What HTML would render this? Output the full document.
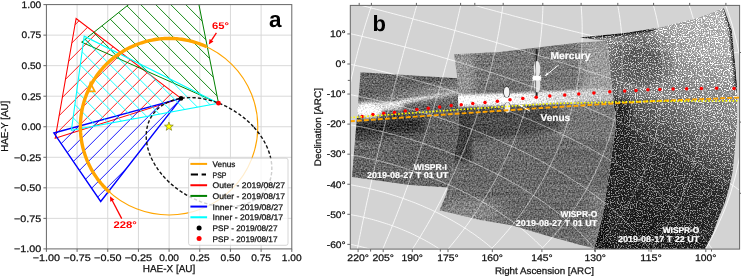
<!DOCTYPE html>
<html><head><meta charset="utf-8"><style>html,body{margin:0;padding:0;background:#fff;}svg{display:block}</style></head>
<body><svg width="741" height="276" viewBox="0 0 741 276" text-rendering="geometricPrecision" style="will-change:transform">
<defs><pattern id="hr" patternUnits="userSpaceOnUse" width="10.47" height="10.47" patternTransform="rotate(-45)"><rect x="-1" y="7.19" width="12.47" height="0.9" fill="#ff0000"/><rect x="-1" y="-3.28" width="12.47" height="0.9" fill="#ff0000"/><rect x="-1" y="17.65" width="12.47" height="0.9" fill="#ff0000"/></pattern><pattern id="hb" patternUnits="userSpaceOnUse" width="10.47" height="10.47" patternTransform="rotate(-45)"><rect x="-1" y="8.39" width="12.47" height="0.9" fill="#0000ff"/><rect x="-1" y="-2.08" width="12.47" height="0.9" fill="#0000ff"/><rect x="-1" y="18.85" width="12.47" height="0.9" fill="#0000ff"/></pattern><pattern id="hg" patternUnits="userSpaceOnUse" width="10.47" height="10.47" patternTransform="rotate(45)"><rect x="-1" y="7.47" width="12.47" height="0.9" fill="#008000"/><rect x="-1" y="-3" width="12.47" height="0.9" fill="#008000"/><rect x="-1" y="17.93" width="12.47" height="0.9" fill="#008000"/></pattern><pattern id="hc" patternUnits="userSpaceOnUse" width="10.47" height="10.47" patternTransform="rotate(45)"><rect x="-1" y="7.47" width="12.47" height="0.9" fill="#00ffff"/><rect x="-1" y="-3" width="12.47" height="0.9" fill="#00ffff"/><rect x="-1" y="17.93" width="12.47" height="0.9" fill="#00ffff"/></pattern><clipPath id="axa"><rect x="46.4" y="4.6" width="245.4" height="244.3"/></clipPath><clipPath id="pr"><polygon points="181,98.4 76.1,18.5 55.2,138.3"/></clipPath><clipPath id="pg"><polygon points="218.5,103.2 81.6,42.1 189.3,-43.8"/></clipPath><clipPath id="pb"><polygon points="181,98.4 53.8,133 100.7,201.5"/></clipPath><clipPath id="pc"><polygon points="218.5,103.2 84.2,36.2 71.4,130.4"/></clipPath><clipPath id="axb"><rect x="350.3" y="5.4" width="389.3" height="243.7"/></clipPath><clipPath id="cI"><polygon points="360.6,72.2 457.4,78.3 459,131 448,187.6 410,184.9 352,177.1"/></clipPath><clipPath id="cO27"><polygon points="454.1,54.3 500,52 579.5,42.5 607,41 616,125 610,167 603,214 594.2,248.2 577.9,244.2 545.3,235.2 512.6,225.4 480,220 439.5,210.2 446,195 448,187.6 459,131 457.4,78.3"/></clipPath><clipPath id="cO17"><polygon points="579.5,37.4 625,33.1 660,27.5 697.7,18.1 723.8,8 731.7,30 735.3,66 737,88 737.2,120 734.8,150 732.6,171.7 729.3,187 725,202.2 718.2,218.8 712.6,233.9 706,247 705,249.5 594,249.5 603,214 610,167 616,125 607,41"/></clipPath><filter id="nz" x="340" y="0" width="410" height="276" filterUnits="userSpaceOnUse" color-interpolation-filters="sRGB"><feTurbulence type="fractalNoise" baseFrequency="0.75" numOctaves="2" seed="7"/><feColorMatrix type="matrix" values="3.2 0 0 0 -1.1  3.2 0 0 0 -1.1  3.2 0 0 0 -1.1  0 0 0 0 1"/></filter><filter id="nzh" x="340" y="0" width="410" height="276" filterUnits="userSpaceOnUse" color-interpolation-filters="sRGB"><feTurbulence type="fractalNoise" baseFrequency="0.02 0.45" numOctaves="2" seed="11"/><feColorMatrix type="matrix" values="3 0 0 0 -1  3 0 0 0 -1  3 0 0 0 -1  0 0 0 0 1"/></filter><filter id="bl05"><feGaussianBlur stdDeviation="0.5"/></filter><filter id="bl1"><feGaussianBlur stdDeviation="1"/></filter><filter id="bl2"><feGaussianBlur stdDeviation="2"/></filter><filter id="bl12" x="-50%" y="-50%" width="200%" height="200%"><feGaussianBlur stdDeviation="12"/></filter><filter id="bl4"><feGaussianBlur stdDeviation="4"/></filter><filter id="bl8"><feGaussianBlur stdDeviation="8"/></filter><g id="grid" fill="none" stroke="#ffffff" stroke-width="1"><polyline points="749.7,262.3 753.4,254.9 756.9,247.3"/><polyline points="695.6,264.5 699.0,259.5 702.2,254.3 705.4,249.1 708.5,243.8 711.4,238.4 714.3,232.9 717.0,227.2 719.6,221.5 722.2,215.7 724.6,209.8 726.8,203.9 729.0,197.8 731.0,191.7 732.8,185.4 734.6,179.2 736.2,172.8 737.6,166.4 739.0,159.9 740.1,153.4 741.1,146.8 742.0,140.2 742.7,133.5 743.3,126.8 743.7,120.1 743.9,113.3 744.0,106.5 743.9,99.7 743.7,92.9 743.3,86.1 742.7,79.3 742.0,72.5 741.1,65.7 740.0,58.9 738.8,52.1 737.5,45.4 735.9,38.7 734.2,32.1 732.4,25.5 730.4,18.9 728.2,12.4 725.9,6.0 723.4,-0.4 720.8,-6.7 718.1,-12.9"/><polyline points="635.4,268.8 638.6,265.2 641.7,261.6 644.8,257.9 647.8,254.2 650.7,250.3 653.6,246.5 656.4,242.5 659.2,238.5 661.8,234.4 664.5,230.2 667.0,226.0 669.5,221.7 671.9,217.3 674.2,212.9 676.5,208.4 678.6,203.9 680.7,199.3 682.8,194.6 684.7,189.9 686.5,185.2 688.3,180.4 690.0,175.5 691.5,170.6 693.0,165.6 694.4,160.6 695.7,155.5 696.9,150.5 698.0,145.3 699.0,140.1 699.9,134.9 700.8,129.7 701.5,124.4 702.1,119.1 702.5,113.7 702.9,108.4 703.2,103.0 703.4,97.6 703.4,92.2 703.4,86.7 703.2,81.3 703.0,75.8 702.6,70.3 702.1,64.8 701.5,59.4 700.7,53.9 699.9,48.4 698.9,42.9 697.9,37.4 696.7,32.0 695.4,26.5 694.0,21.1 692.4,15.7 690.8,10.3 689.0,5.0 687.1,-0.4 685.2,-5.7 683.0,-10.9"/><polyline points="578.3,267.0 581.3,264.2 584.2,261.4 587.1,258.5 589.9,255.6 592.7,252.6 595.5,249.6 598.2,246.5 600.9,243.4 603.5,240.3 606.1,237.1 608.7,233.8 611.2,230.5 613.6,227.2 616.0,223.8 618.4,220.3 620.7,216.9 622.9,213.3 625.1,209.8 627.3,206.2 629.4,202.5 631.4,198.8 633.4,195.1 635.3,191.3 637.2,187.5 639.0,183.7 640.7,179.8 642.4,175.9 644.1,171.9 645.6,167.9 647.1,163.9 648.6,159.8 650.0,155.7 651.3,151.6 652.5,147.4 653.7,143.2 654.8,139.0 655.9,134.8 656.8,130.5 657.8,126.2 658.6,121.8 659.4,117.5 660.1,113.1 660.7,108.7 661.2,104.3 661.7,99.8 662.1,95.3 662.4,90.8 662.6,86.3 662.8,81.8 662.9,77.3 662.9,72.7 662.8,68.1 662.7,63.6 662.4,59.0 662.1,54.4 661.7,49.8 661.2,45.1 660.6,40.5 660.0,35.9 659.2,31.3 658.4,26.7 657.5,22.0 656.5,17.4 655.4,12.8 654.2,8.2 653.0,3.6 651.6,-1.0 650.2,-5.6 648.6,-10.1"/><polyline points="521.0,267.6 523.8,265.3 526.5,262.9 529.3,260.5 532.0,258.0 534.7,255.5 537.3,253.0 539.9,250.4 542.5,247.8 545.0,245.2 547.5,242.5 550.0,239.8 552.5,237.1 554.9,234.3 557.2,231.6 559.6,228.7 561.9,225.9 564.1,223.0 566.4,220.1 568.6,217.1 570.7,214.1 572.9,211.1 574.9,208.1 577.0,205.0 579.0,201.9 581.0,198.8 582.9,195.6 584.8,192.5 586.6,189.2 588.4,186.0 590.2,182.7 591.9,179.4 593.6,176.1 595.2,172.8 596.8,169.4 598.4,166.0 599.9,162.6 601.4,159.2 602.8,155.7 604.2,152.2 605.5,148.7 606.8,145.1 608.0,141.6 609.2,138.0 610.3,134.4 611.4,130.8 612.5,127.1 613.5,123.4 614.4,119.8 615.3,116.0 616.2,112.3 617.0,108.6 617.7,104.8 618.4,101.0 619.0,97.2 619.6,93.4 620.1,89.6 620.6,85.7 621.0,81.9 621.4,78.0 621.7,74.1 622.0,70.2 622.2,66.2 622.3,62.3 622.4,58.4 622.4,54.4 622.4,50.4 622.3,46.5 622.1,42.5 621.9,38.5 621.6,34.5 621.3,30.5 620.9,26.5 620.4,22.4 619.9,18.4 619.3,14.4 618.6,10.3 617.9,6.3 617.1,2.3 616.2,-1.8 615.3,-5.8 614.3,-9.8 613.2,-13.9"/><polyline points="469.7,269.0 472.3,266.7 474.8,264.5 477.4,262.2 479.9,260.0 482.3,257.7 484.8,255.3 487.2,253.0 489.6,250.6 491.9,248.2 494.3,245.7 496.6,243.3 498.9,240.8 501.1,238.3 503.4,235.8 505.6,233.2 507.8,230.7 509.9,228.1 512.0,225.5 514.1,222.8 516.2,220.2 518.2,217.5 520.2,214.8 522.2,212.1 524.2,209.4 526.1,206.6 528.0,203.8 529.9,201.0 531.7,198.2 533.5,195.4 535.3,192.5 537.1,189.7 538.8,186.8 540.5,183.9 542.1,180.9 543.8,178.0 545.4,175.0 546.9,172.0 548.5,169.0 550.0,166.0 551.5,163.0 552.9,159.9 554.3,156.9 555.7,153.8 557.1,150.7 558.4,147.6 559.7,144.4 561.0,141.3 562.2,138.1 563.4,134.9 564.5,131.8 565.6,128.5 566.7,125.3 567.8,122.1 568.8,118.8 569.8,115.6 570.8,112.3 571.7,109.0 572.6,105.7 573.4,102.4 574.2,99.0 575.0,95.7 575.7,92.3 576.4,88.9 577.1,85.5 577.7,82.1 578.3,78.7 578.8,75.3 579.3,71.9 579.8,68.4 580.2,65.0 580.6,61.5 581.0,58.0 581.3,54.6 581.5,51.1 581.8,47.5 581.9,44.0 582.1,40.5 582.2,37.0 582.2,33.4 582.2,29.9 582.2,26.3 582.1,22.8 582.0,19.2 581.8,15.6 581.6,12.0 581.3,8.4 581.0,4.8 580.6,1.2 580.2,-2.4 579.8,-6.0 579.3,-9.6 578.7,-13.2"/><polyline points="429.7,269.0 431.9,266.7 434.2,264.4 436.3,262.1 438.5,259.8 440.7,257.4 442.8,255.1 444.9,252.7 447.0,250.3 449.0,247.9 451.1,245.4 453.1,243.0 455.1,240.5 457.1,238.1 459.0,235.6 460.9,233.1 462.9,230.6 464.7,228.0 466.6,225.5 468.5,222.9 470.3,220.3 472.1,217.8 473.9,215.2 475.6,212.5 477.4,209.9 479.1,207.3 480.8,204.6 482.5,202.0 484.2,199.3 485.8,196.6 487.4,193.9 489.0,191.2 490.6,188.5 492.1,185.7 493.7,183.0 495.2,180.2 496.7,177.5 498.1,174.7 499.6,171.9 501.0,169.1 502.4,166.3 503.8,163.4 505.2,160.6 506.5,157.8 507.8,154.9 509.1,152.0 510.4,149.2 511.6,146.3 512.9,143.4 514.1,140.5 515.3,137.6 516.4,134.6 517.6,131.7 518.7,128.7 519.8,125.8 520.8,122.8 521.9,119.8 522.9,116.9 523.9,113.9 524.9,110.9 525.9,107.8 526.8,104.8 527.7,101.8 528.6,98.8 529.5,95.7 530.3,92.6 531.1,89.6 531.9,86.5 532.7,83.4 533.4,80.3 534.1,77.2 534.8,74.1 535.5,71.0 536.1,67.9 536.7,64.8 537.3,61.6 537.8,58.5 538.4,55.3 538.9,52.2 539.3,49.0 539.8,45.8 540.2,42.6 540.6,39.4 541.0,36.2 541.3,33.0 541.6,29.8 541.9,26.6 542.1,23.4 542.3,20.2 542.5,16.9 542.7,13.7 542.8,10.4 542.9,7.2 542.9,3.9 543.0,0.6 543.0,-2.6 542.9,-5.9 542.9,-9.2 542.7,-12.5"/><polyline points="399.6,267.8 401.3,265.3 403.1,262.8 404.8,260.3 406.5,257.8 408.2,255.3 409.9,252.8 411.6,250.3 413.2,247.8 414.9,245.2 416.5,242.7 418.1,240.1 419.7,237.6 421.3,235.0 422.8,232.4 424.4,229.8 425.9,227.2 427.4,224.6 428.9,222.0 430.4,219.4 431.9,216.8 433.4,214.1 434.8,211.5 436.3,208.8 437.7,206.2 439.1,203.5 440.5,200.9 441.9,198.2 443.2,195.5 444.6,192.8 445.9,190.1 447.3,187.4 448.6,184.7 449.9,182.0 451.2,179.3 452.4,176.6 453.7,173.9 454.9,171.1 456.2,168.4 457.4,165.6 458.6,162.9 459.8,160.1 461.0,157.4 462.1,154.6 463.3,151.8 464.4,149.1 465.5,146.3 466.6,143.5 467.7,140.7 468.8,137.9 469.9,135.1 471.0,132.3 472.0,129.5 473.0,126.6 474.0,123.8 475.1,121.0 476.0,118.1 477.0,115.3 478.0,112.4 478.9,109.6 479.9,106.7 480.8,103.9 481.7,101.0 482.6,98.1 483.5,95.3 484.3,92.4 485.2,89.5 486.0,86.6 486.8,83.7 487.6,80.8 488.4,77.9 489.2,75.0 490.0,72.1 490.7,69.1 491.4,66.2 492.1,63.3 492.8,60.4 493.5,57.4 494.2,54.5 494.9,51.5 495.5,48.6 496.1,45.6 496.7,42.7 497.3,39.7 497.9,36.7 498.4,33.7 499.0,30.8 499.5,27.8 500.0,24.8 500.5,21.8 501.0,18.8 501.4,15.8 501.9,12.8 502.3,9.8 502.7,6.8 503.1,3.8 503.4,0.7 503.8,-2.3 504.1,-5.3 504.4,-8.4 504.7,-11.4 504.9,-14.4"/><polyline points="374.1,269.0 375.3,266.3 376.5,263.6 377.7,260.9 378.8,258.2 380.0,255.5 381.2,252.9 382.3,250.2 383.5,247.4 384.6,244.7 385.7,242.0 386.8,239.3 388.0,236.6 389.1,233.9 390.2,231.2 391.3,228.5 392.4,225.7 393.5,223.0 394.5,220.3 395.6,217.6 396.7,214.8 397.7,212.1 398.8,209.4 399.9,206.6 400.9,203.9 401.9,201.2 403.0,198.4 404.0,195.7 405.0,192.9 406.0,190.2 407.1,187.4 408.1,184.7 409.1,181.9 410.0,179.1 411.0,176.4 412.0,173.6 413.0,170.9 414.0,168.1 414.9,165.3 415.9,162.6 416.9,159.8 417.8,157.0 418.7,154.3 419.7,151.5 420.6,148.7 421.5,145.9 422.5,143.1 423.4,140.4 424.3,137.6 425.2,134.8 426.1,132.0 427.0,129.2 427.9,126.4 428.8,123.6 429.7,120.8 430.5,118.0 431.4,115.2 432.3,112.4 433.1,109.6 434.0,106.8 434.8,104.0 435.7,101.2 436.5,98.4 437.3,95.6 438.2,92.8 439.0,90.0 439.8,87.2 440.6,84.3 441.4,81.5 442.2,78.7 443.0,75.9 443.8,73.1 444.6,70.2 445.3,67.4 446.1,64.6 446.9,61.7 447.6,58.9 448.4,56.1 449.1,53.2 449.9,50.4 450.6,47.6 451.3,44.7 452.1,41.9 452.8,39.0 453.5,36.2 454.2,33.4 454.9,30.5 455.6,27.7 456.3,24.8 456.9,21.9 457.6,19.1 458.3,16.2 458.9,13.4 459.6,10.5 460.2,7.6 460.9,4.8 461.5,1.9 462.1,-1.0 462.8,-3.8 463.4,-6.7 464.0,-9.6 464.6,-12.4"/><polyline points="353.5,268.9 354.1,266.0 354.6,263.2 355.1,260.3 355.7,257.4 356.2,254.6 356.8,251.7 357.3,248.8 357.9,245.9 358.5,243.1 359.0,240.2 359.6,237.3 360.2,234.5 360.8,231.6 361.3,228.8 361.9,225.9 362.5,223.0 363.1,220.2 363.7,217.3 364.3,214.4 364.9,211.6 365.5,208.7 366.1,205.9 366.7,203.0 367.3,200.2 368.0,197.3 368.6,194.5 369.2,191.6 369.8,188.7 370.5,185.9 371.1,183.0 371.7,180.2 372.4,177.3 373.0,174.5 373.7,171.6 374.3,168.8 375.0,165.9 375.6,163.1 376.3,160.3 376.9,157.4 377.6,154.6 378.3,151.7 378.9,148.9 379.6,146.0 380.3,143.2 381.0,140.4 381.6,137.5 382.3,134.7 383.0,131.8 383.7,129.0 384.4,126.2 385.1,123.3 385.8,120.5 386.5,117.7 387.2,114.8 387.9,112.0 388.6,109.2 389.3,106.3 390.0,103.5 390.8,100.7 391.5,97.8 392.2,95.0 392.9,92.2 393.7,89.3 394.4,86.5 395.1,83.7 395.9,80.9 396.6,78.0 397.4,75.2 398.1,72.4 398.9,69.6 399.6,66.7 400.4,63.9 401.1,61.1 401.9,58.3 402.7,55.5 403.4,52.6 404.2,49.8 405.0,47.0 405.7,44.2 406.5,41.4 407.3,38.6 408.1,35.8 408.9,32.9 409.7,30.1 410.5,27.3 411.3,24.5 412.1,21.7 412.9,18.9 413.7,16.1 414.5,13.3 415.3,10.5 416.1,7.7 417.0,4.9 417.8,2.1 418.6,-0.7 419.5,-3.5 420.3,-6.3 421.1,-9.1 422.0,-11.9"/><polyline points="334.9,266.3 334.7,263.3 334.6,260.3 334.4,257.3 334.3,254.3 334.2,251.3 334.1,248.3 334.1,245.3 334.0,242.3 334.0,239.3 334.0,236.3 334.0,233.3 334.0,230.3 334.0,227.3 334.0,224.3 334.1,221.4 334.1,218.4 334.2,215.4 334.3,212.4 334.4,209.4 334.5,206.4 334.6,203.5 334.8,200.5 334.9,197.5 335.1,194.5 335.3,191.5 335.5,188.6 335.7,185.6 335.9,182.6 336.1,179.6 336.4,176.7 336.6,173.7 336.9,170.7 337.2,167.8 337.5,164.8 337.8,161.9 338.1,158.9 338.4,155.9 338.8,153.0 339.1,150.0 339.5,147.1 339.9,144.1 340.3,141.2 340.7,138.2 341.1,135.3 341.5,132.3 341.9,129.4 342.4,126.4 342.8,123.5 343.3,120.6 343.8,117.6 344.3,114.7 344.8,111.8 345.3,108.8 345.8,105.9 346.4,103.0 346.9,100.1 347.5,97.1 348.1,94.2 348.6,91.3 349.2,88.4 349.8,85.5 350.5,82.6 351.1,79.7 351.7,76.8 352.4,73.9 353.1,71.0 353.7,68.1 354.4,65.2 355.1,62.3 355.8,59.4 356.6,56.5 357.3,53.6 358.0,50.7 358.8,47.8 359.6,45.0 360.4,42.1 361.2,39.2 362.0,36.4 362.8,33.5 363.6,30.6 364.5,27.8 365.3,24.9 366.2,22.1 367.1,19.2 368.0,16.4 368.9,13.5 369.8,10.7 370.7,7.9 371.7,5.0 372.7,2.2 373.6,-0.6 374.6,-3.5 375.6,-6.3 376.6,-9.1 377.7,-11.9"/><polyline points="330.7,-8.5 331.9,-11.4 333.1,-14.3"/><polyline points="412.6,268.5 411.3,267.7 409.9,266.8 408.6,266.0 407.2,265.2 405.8,264.4 404.5,263.6 403.1,262.8 401.7,262.1 400.2,261.3 398.8,260.6 397.4,259.9 396.0,259.2 394.5,258.5 393.1,257.8 391.6,257.1 390.1,256.5 388.6,255.8 387.2,255.2 385.7,254.6 384.2,254.0 382.7,253.4 381.2,252.9 379.6,252.3 378.1,251.7 376.6,251.2 375.1,250.7 373.5,250.2 372.0,249.7 370.4,249.2 368.9,248.8 367.3,248.3 365.8,247.9 364.2,247.5 362.6,247.1 361.1,246.7 359.5,246.3 357.9,245.9 356.3,245.6 354.7,245.3 353.2,244.9 351.6,244.6 350.0,244.4 348.4,244.1 346.8,243.8 345.2,243.6 343.6,243.4 342.0,243.1 340.4,242.9 338.8,242.8 337.2,242.6 335.6,242.4 334.0,242.3 332.4,242.2 330.8,242.1"/><polyline points="464.4,268.5 463.0,267.2 461.5,265.9 460.1,264.6 458.6,263.3 457.2,262.1 455.7,260.9 454.2,259.7 452.7,258.5 451.1,257.3 449.6,256.1 448.0,254.9 446.5,253.8 444.9,252.7 443.3,251.6 441.7,250.5 440.1,249.4 438.4,248.3 436.8,247.3 435.1,246.2 433.4,245.2 431.8,244.2 430.1,243.2 428.4,242.2 426.6,241.3 424.9,240.3 423.2,239.4 421.4,238.5 419.7,237.6 417.9,236.7 416.1,235.8 414.4,234.9 412.6,234.1 410.8,233.2 409.0,232.4 407.1,231.6 405.3,230.8 403.5,230.1 401.7,229.3 399.8,228.6 398.0,227.8 396.1,227.1 394.2,226.4 392.4,225.7 390.5,225.1 388.6,224.4 386.7,223.8 384.8,223.2 382.9,222.6 381.0,222.0 379.1,221.4 377.2,220.8 375.3,220.3 373.4,219.7 371.4,219.2 369.5,218.7 367.6,218.2 365.6,217.8 363.7,217.3 361.8,216.9 359.8,216.4 357.9,216.0 355.9,215.6 353.9,215.3 352.0,214.9 350.0,214.6 348.1,214.2 346.1,213.9 344.1,213.6 342.2,213.3 340.2,213.1 338.2,212.8 336.3,212.6 334.3,212.4 332.3,212.2 330.4,212.0"/><polyline points="512.5,268.8 511.0,267.1 509.5,265.4 508.0,263.8 506.5,262.1 505.0,260.5 503.4,258.9 501.8,257.3 500.2,255.7 498.6,254.2 497.0,252.7 495.3,251.1 493.6,249.7 491.9,248.2 490.2,246.7 488.5,245.3 486.8,243.8 485.0,242.4 483.2,241.0 481.5,239.7 479.7,238.3 477.8,237.0 476.0,235.6 474.2,234.3 472.3,233.0 470.4,231.8 468.5,230.5 466.7,229.2 464.7,228.0 462.8,226.8 460.9,225.6 458.9,224.4 457.0,223.3 455.0,222.1 453.1,221.0 451.1,219.9 449.1,218.8 447.1,217.7 445.0,216.6 443.0,215.6 441.0,214.5 438.9,213.5 436.9,212.5 434.8,211.5 432.7,210.5 430.7,209.5 428.6,208.6 426.5,207.7 424.4,206.8 422.3,205.8 420.2,205.0 418.0,204.1 415.9,203.2 413.8,202.4 411.6,201.6 409.5,200.8 407.3,200.0 405.1,199.2 403.0,198.4 400.8,197.7 398.6,196.9 396.4,196.2 394.2,195.5 392.0,194.8 389.8,194.1 387.6,193.5 385.4,192.8 383.2,192.2 381.0,191.6 378.8,191.0 376.5,190.4 374.3,189.8 372.1,189.3 369.8,188.7 367.6,188.2 365.3,187.7 363.1,187.2 360.8,186.8 358.6,186.3 356.3,185.9 354.1,185.4 351.8,185.0 349.5,184.6 347.3,184.3 345.0,183.9 342.7,183.5 340.5,183.2 338.2,182.9 335.9,182.6 333.6,182.3 331.4,182.1"/><polyline points="558.9,267.1 557.3,265.1 555.8,263.1 554.2,261.1 552.6,259.1 551.0,257.2 549.3,255.3 547.6,253.4 545.9,251.5 544.2,249.7 542.5,247.8 540.7,246.0 538.9,244.2 537.1,242.5 535.3,240.7 533.5,239.0 531.6,237.3 529.7,235.6 527.8,234.0 525.9,232.3 524.0,230.7 522.1,229.1 520.1,227.5 518.1,225.9 516.1,224.4 514.1,222.8 512.1,221.3 510.1,219.8 508.0,218.4 506.0,216.9 503.9,215.5 501.8,214.0 499.7,212.6 497.6,211.2 495.5,209.9 493.3,208.5 491.2,207.2 489.0,205.8 486.9,204.5 484.7,203.2 482.5,202.0 480.3,200.7 478.1,199.5 475.9,198.2 473.6,197.0 471.4,195.8 469.2,194.7 466.9,193.5 464.6,192.4 462.4,191.2 460.1,190.1 457.8,189.0 455.5,187.9 453.2,186.8 450.9,185.8 448.6,184.7 446.2,183.7 443.9,182.7 441.6,181.7 439.2,180.7 436.9,179.8 434.5,178.8 432.1,177.9 429.8,176.9 427.4,176.0 425.0,175.1 422.6,174.2 420.2,173.4 417.8,172.5 415.4,171.7 413.0,170.9 410.6,170.1 408.2,169.3 405.7,168.5 403.3,167.7 400.9,167.0 398.4,166.2 396.0,165.5 393.5,164.8 391.1,164.1 388.6,163.4 386.2,162.8 383.7,162.1 381.2,161.5 378.7,160.9 376.3,160.3 373.8,159.7 371.3,159.1 368.8,158.5 366.3,158.0 363.8,157.4 361.3,156.9 358.9,156.4 356.4,155.9 353.8,155.5 351.3,155.0 348.8,154.6 346.3,154.2 343.8,153.7 341.3,153.4 338.8,153.0 336.3,152.6 333.7,152.3 331.2,151.9"/><polyline points="608.8,267.8 607.3,265.4 605.7,263.1 604.1,260.8 602.4,258.5 600.7,256.2 599.0,254.0 597.3,251.8 595.5,249.6 593.7,247.5 591.9,245.4 590.1,243.3 588.2,241.2 586.3,239.2 584.4,237.1 582.5,235.1 580.5,233.2 578.6,231.2 576.6,229.3 574.6,227.4 572.6,225.5 570.5,223.7 568.5,221.9 566.4,220.1 564.3,218.3 562.2,216.5 560.1,214.8 557.9,213.0 555.8,211.3 553.6,209.7 551.4,208.0 549.2,206.4 547.0,204.7 544.8,203.1 542.6,201.5 540.3,200.0 538.1,198.4 535.8,196.9 533.5,195.4 531.2,193.9 528.9,192.4 526.6,190.9 524.3,189.5 522.0,188.1 519.6,186.7 517.3,185.3 514.9,183.9 512.5,182.5 510.2,181.2 507.8,179.9 505.4,178.5 503.0,177.2 500.6,176.0 498.1,174.7 495.7,173.4 493.3,172.2 490.8,171.0 488.4,169.8 485.9,168.6 483.4,167.4 481.0,166.2 478.5,165.1 476.0,163.9 473.5,162.8 471.0,161.7 468.5,160.6 466.0,159.5 463.5,158.4 461.0,157.4 458.4,156.3 455.9,155.3 453.4,154.3 450.8,153.3 448.3,152.3 445.7,151.3 443.1,150.4 440.6,149.4 438.0,148.5 435.4,147.6 432.8,146.6 430.3,145.8 427.7,144.9 425.1,144.0 422.5,143.1 419.9,142.3 417.3,141.5 414.6,140.6 412.0,139.8 409.4,139.0 406.8,138.3 404.2,137.5 401.5,136.7 398.9,136.0 396.3,135.3 393.6,134.6 391.0,133.9 388.3,133.2 385.7,132.5 383.0,131.8 380.4,131.2 377.7,130.6 375.0,129.9 372.4,129.3 369.7,128.7 367.0,128.1 364.3,127.6 361.7,127.0 359.0,126.5 356.3,125.9 353.6,125.4 350.9,124.9 348.2,124.4 345.5,124.0 342.8,123.5 340.1,123.1 337.4,122.6 334.7,122.2 332.0,121.8"/><polyline points="662.6,268.6 661.0,265.9 659.4,263.2 657.7,260.6 656.0,257.9 654.3,255.4 652.5,252.8 650.7,250.3 648.9,247.9 647.0,245.5 645.1,243.1 643.2,240.7 641.3,238.4 639.3,236.1 637.3,233.9 635.3,231.6 633.3,229.4 631.2,227.3 629.2,225.1 627.1,223.0 624.9,220.9 622.8,218.9 620.7,216.9 618.5,214.9 616.3,212.9 614.1,210.9 611.9,209.0 609.7,207.1 607.4,205.2 605.2,203.3 602.9,201.5 600.6,199.7 598.3,197.9 596.0,196.1 593.7,194.4 591.3,192.6 589.0,190.9 586.6,189.2 584.2,187.6 581.9,185.9 579.5,184.3 577.1,182.7 574.6,181.1 572.2,179.5 569.8,177.9 567.3,176.4 564.9,174.9 562.4,173.3 560.0,171.8 557.5,170.4 555.0,168.9 552.5,167.5 550.0,166.0 547.5,164.6 545.0,163.2 542.4,161.8 539.9,160.4 537.4,159.1 534.8,157.7 532.3,156.4 529.7,155.1 527.2,153.8 524.6,152.5 522.0,151.2 519.4,150.0 516.8,148.7 514.2,147.5 511.6,146.3 509.0,145.1 506.4,143.9 503.8,142.7 501.2,141.5 498.5,140.4 495.9,139.2 493.3,138.1 490.6,137.0 488.0,135.9 485.3,134.8 482.7,133.7 480.0,132.6 477.3,131.5 474.7,130.5 472.0,129.5 469.3,128.4 466.6,127.4 464.0,126.4 461.3,125.4 458.6,124.4 455.9,123.5 453.2,122.5 450.5,121.6 447.7,120.6 445.0,119.7 442.3,118.8 439.6,117.9 436.9,117.0 434.1,116.1 431.4,115.2 428.7,114.4 425.9,113.5 423.2,112.7 420.4,111.9 417.7,111.0 414.9,110.2 412.2,109.4 409.4,108.7 406.7,107.9 403.9,107.1 401.1,106.4 398.4,105.6 395.6,104.9 392.8,104.2 390.0,103.5 387.3,102.8 384.5,102.1 381.7,101.4 378.9,100.8 376.1,100.1 373.3,99.5 370.5,98.8 367.7,98.2 364.9,97.6 362.1,97.0 359.3,96.4 356.5,95.9 353.7,95.3 350.9,94.8 348.1,94.2 345.2,93.7 342.4,93.2 339.6,92.7 336.8,92.2 333.9,91.7 331.1,91.2"/><polyline points="722.9,266.8 721.3,263.7 719.6,260.7 717.8,257.7 716.0,254.8 714.2,252.0 712.3,249.2 710.4,246.5 708.5,243.8 706.5,241.2 704.5,238.6 702.5,236.0 700.4,233.5 698.4,231.1 696.3,228.6 694.2,226.3 692.0,223.9 689.9,221.6 687.7,219.3 685.5,217.1 683.2,214.9 681.0,212.7 678.7,210.5 676.5,208.4 674.2,206.3 671.9,204.3 669.6,202.3 667.2,200.2 664.9,198.3 662.5,196.3 660.1,194.4 657.8,192.5 655.4,190.6 652.9,188.7 650.5,186.9 648.1,185.1 645.6,183.3 643.2,181.5 640.7,179.8 638.3,178.1 635.8,176.3 633.3,174.6 630.8,173.0 628.3,171.3 625.8,169.7 623.2,168.1 620.7,166.5 618.2,164.9 615.6,163.3 613.1,161.7 610.5,160.2 607.9,158.7 605.4,157.2 602.8,155.7 600.2,154.2 597.6,152.7 595.0,151.3 592.4,149.9 589.8,148.4 587.2,147.0 584.5,145.6 581.9,144.3 579.3,142.9 576.6,141.5 574.0,140.2 571.3,138.9 568.7,137.5 566.0,136.2 563.4,134.9 560.7,133.7 558.0,132.4 555.4,131.1 552.7,129.9 550.0,128.6 547.3,127.4 544.6,126.2 541.9,125.0 539.2,123.8 536.5,122.6 533.8,121.4 531.1,120.3 528.4,119.1 525.6,118.0 522.9,116.9 520.2,115.7 517.5,114.6 514.7,113.5 512.0,112.4 509.3,111.3 506.5,110.3 503.8,109.2 501.0,108.1 498.3,107.1 495.5,106.1 492.7,105.0 490.0,104.0 487.2,103.0 484.5,102.0 481.7,101.0 478.9,100.0 476.1,99.0 473.4,98.1 470.6,97.1 467.8,96.2 465.0,95.2 462.2,94.3 459.4,93.4 456.6,92.5 453.8,91.6 451.0,90.7 448.2,89.8 445.4,88.9 442.6,88.0 439.8,87.2 437.0,86.3 434.2,85.5 431.4,84.6 428.5,83.8 425.7,83.0 422.9,82.2 420.1,81.3 417.2,80.6 414.4,79.8 411.6,79.0 408.7,78.2 405.9,77.5 403.0,76.7 400.2,76.0 397.4,75.2 394.5,74.5 391.7,73.8 388.8,73.0 386.0,72.3 383.1,71.6 380.2,71.0 377.4,70.3 374.5,69.6 371.7,69.0 368.8,68.3 365.9,67.7 363.0,67.0 360.2,66.4 357.3,65.8 354.4,65.2 351.5,64.6 348.7,64.0 345.8,63.4 342.9,62.8 340.0,62.3 337.1,61.7 334.2,61.2 331.3,60.6"/><polyline points="757.4,204.7 755.0,202.6 752.6,200.6 750.2,198.6 747.7,196.6 745.3,194.7 742.8,192.8 740.3,190.9 737.8,189.1 735.4,187.2 732.8,185.4 730.3,183.7 727.8,181.9 725.3,180.1 722.7,178.4 720.2,176.7 717.7,175.0 715.1,173.4 712.5,171.7 710.0,170.1 707.4,168.5 704.8,166.9 702.2,165.3 699.6,163.7 697.0,162.1 694.4,160.6 691.8,159.1 689.2,157.6 686.6,156.1 684.0,154.6 681.3,153.1 678.7,151.6 676.1,150.2 673.4,148.8 670.8,147.3 668.1,145.9 665.5,144.5 662.8,143.1 660.2,141.7 657.5,140.4 654.8,139.0 652.2,137.7 649.5,136.3 646.8,135.0 644.1,133.7 641.4,132.4 638.7,131.1 636.1,129.8 633.4,128.5 630.7,127.2 628.0,125.9 625.3,124.7 622.6,123.4 619.8,122.2 617.1,121.0 614.4,119.8 611.7,118.5 609.0,117.3 606.3,116.1 603.5,114.9 600.8,113.8 598.1,112.6 595.3,111.4 592.6,110.3 589.9,109.1 587.1,108.0 584.4,106.8 581.6,105.7 578.9,104.6 576.2,103.5 573.4,102.4 570.6,101.2 567.9,100.2 565.1,99.1 562.4,98.0 559.6,96.9 556.9,95.8 554.1,94.8 551.3,93.7 548.5,92.7 545.8,91.6 543.0,90.6 540.2,89.6 537.4,88.5 534.7,87.5 531.9,86.5 529.1,85.5 526.3,84.5 523.5,83.5 520.7,82.5 518.0,81.5 515.2,80.6 512.4,79.6 509.6,78.6 506.8,77.7 504.0,76.7 501.2,75.8 498.4,74.8 495.6,73.9 492.8,73.0 490.0,72.1 487.1,71.1 484.3,70.2 481.5,69.3 478.7,68.4 475.9,67.5 473.1,66.7 470.2,65.8 467.4,64.9 464.6,64.0 461.8,63.2 459.0,62.3 456.1,61.4 453.3,60.6 450.5,59.8 447.6,58.9 444.8,58.1 442.0,57.3 439.1,56.4 436.3,55.6 433.5,54.8 430.6,54.0 427.8,53.2 424.9,52.4 422.1,51.6 419.2,50.8 416.4,50.1 413.5,49.3 410.7,48.5 407.8,47.8 405.0,47.0 402.1,46.3 399.3,45.5 396.4,44.8 393.5,44.1 390.7,43.3 387.8,42.6 384.9,41.9 382.1,41.2 379.2,40.5 376.3,39.8 373.5,39.1 370.6,38.4 367.7,37.7 364.8,37.0 362.0,36.4 359.1,35.7 356.2,35.0 353.3,34.4 350.4,33.7 347.6,33.1 344.7,32.5 341.8,31.8 338.9,31.2 336.0,30.6 333.1,30.0"/><polyline points="757.3,123.3 754.5,122.7 751.8,122.1 749.1,121.4 746.4,120.7 743.7,120.1 741.0,119.4 738.3,118.6 735.5,117.9 732.8,117.2 730.1,116.4 727.4,115.7 724.7,114.9 722.0,114.1 719.2,113.3 716.5,112.5 713.8,111.7 711.1,110.9 708.4,110.1 705.7,109.2 702.9,108.4 700.2,107.5 697.5,106.7 694.8,105.8 692.1,105.0 689.3,104.1 686.6,103.3 683.9,102.4 681.2,101.5 678.4,100.6 675.7,99.8 673.0,98.9 670.3,98.0 667.5,97.1 664.8,96.2 662.1,95.3 659.3,94.4 656.6,93.5 653.9,92.6 651.2,91.7 648.4,90.9 645.7,90.0 643.0,89.1 640.2,88.2 637.5,87.3 634.7,86.4 632.0,85.5 629.3,84.6 626.5,83.7 623.8,82.8 621.0,81.9 618.3,81.0 615.6,80.1 612.8,79.2 610.1,78.3 607.3,77.4 604.6,76.5 601.8,75.6 599.1,74.7 596.3,73.8 593.6,72.9 590.8,72.0 588.1,71.1 585.3,70.2 582.6,69.3 579.8,68.4 577.1,67.6 574.3,66.7 571.5,65.8 568.8,64.9 566.0,64.0 563.3,63.1 560.5,62.3 557.7,61.4 555.0,60.5 552.2,59.7 549.4,58.8 546.7,57.9 543.9,57.1 541.1,56.2 538.4,55.3 535.6,54.5 532.8,53.6 530.1,52.8 527.3,51.9 524.5,51.1 521.7,50.2 519.0,49.4 516.2,48.5 513.4,47.7 510.6,46.8 507.8,46.0 505.1,45.2 502.3,44.3 499.5,43.5 496.7,42.7 493.9,41.8 491.2,41.0 488.4,40.2 485.6,39.4 482.8,38.5 480.0,37.7 477.2,36.9 474.4,36.1 471.6,35.3 468.9,34.5 466.1,33.7 463.3,32.9 460.5,32.1 457.7,31.3 454.9,30.5 452.1,29.7 449.3,28.9 446.5,28.1 443.7,27.4 440.9,26.6 438.1,25.8 435.3,25.0 432.5,24.2 429.7,23.5 426.9,22.7 424.1,21.9 421.3,21.2 418.5,20.4 415.7,19.7 412.9,18.9 410.1,18.1 407.3,17.4 404.5,16.6 401.7,15.9 398.9,15.2 396.0,14.4 393.2,13.7 390.4,12.9 387.6,12.2 384.8,11.5 382.0,10.7 379.2,10.0 376.4,9.3 373.6,8.6 370.7,7.9 367.9,7.1 365.1,6.4 362.3,5.7 359.5,5.0 356.7,4.3 353.9,3.6 351.0,2.9 348.2,2.2 345.4,1.5 342.6,0.8 339.8,0.1 336.9,-0.6 334.1,-1.3 331.3,-2.0"/><polyline points="758.4,47.1 756.0,48.0 753.6,48.7 751.1,49.5 748.7,50.1 746.2,50.7 743.8,51.2 741.3,51.7 738.8,52.1 736.3,52.5 733.8,52.9 731.3,53.2 728.8,53.4 726.3,53.6 723.8,53.8 721.2,53.9 718.7,54.0 716.1,54.1 713.6,54.1 711.0,54.1 708.5,54.1 705.9,54.1 703.3,54.0 700.7,53.9 698.2,53.7 695.6,53.6 693.0,53.4 690.4,53.2 687.8,53.0 685.2,52.7 682.6,52.5 680.0,52.2 677.4,51.9 674.8,51.6 672.2,51.2 669.5,50.9 666.9,50.5 664.3,50.2 661.7,49.8 659.1,49.4 656.4,48.9 653.8,48.5 651.2,48.1 648.5,47.6 645.9,47.1 643.3,46.7 640.6,46.2 638.0,45.7 635.4,45.2 632.7,44.6 630.1,44.1 627.4,43.6 624.8,43.0 622.1,42.5 619.5,41.9 616.8,41.4 614.2,40.8 611.5,40.2 608.9,39.6 606.2,39.0 603.5,38.4 600.9,37.8 598.2,37.2 595.6,36.6 592.9,36.0 590.2,35.3 587.6,34.7 584.9,34.1 582.2,33.4 579.6,32.8 576.9,32.1 574.2,31.5 571.6,30.8 568.9,30.2 566.2,29.5 563.5,28.8 560.9,28.2 558.2,27.5 555.5,26.8 552.8,26.1 550.2,25.5 547.5,24.8 544.8,24.1 542.1,23.4 539.4,22.7 536.8,22.0 534.1,21.3 531.4,20.6 528.7,19.9 526.0,19.2 523.3,18.5 520.7,17.8 518.0,17.1 515.3,16.4 512.6,15.7 509.9,14.9 507.2,14.2 504.5,13.5 501.9,12.8 499.2,12.1 496.5,11.4 493.8,10.6 491.1,9.9 488.4,9.2 485.7,8.5 483.0,7.7 480.3,7.0 477.7,6.3 475.0,5.6 472.3,4.8 469.6,4.1 466.9,3.4 464.2,2.6 461.5,1.9 458.8,1.2 456.1,0.4 453.4,-0.3 450.7,-1.0 448.1,-1.8 445.4,-2.5 442.7,-3.2 440.0,-4.0 437.3,-4.7 434.6,-5.4 431.9,-6.2 429.2,-6.9 426.5,-7.6 423.8,-8.4 421.1,-9.1 418.5,-9.9 415.8,-10.6 413.1,-11.4 410.4,-12.1 407.7,-12.8 405.0,-13.6 402.3,-14.3"/><polyline points="719.9,-14.2 718.1,-12.9 716.2,-11.7 714.2,-10.6 712.3,-9.5 710.3,-8.5 708.3,-7.5 706.3,-6.6 704.2,-5.7 702.1,-4.9 700.0,-4.1 697.9,-3.4 695.8,-2.7 693.7,-2.0 691.5,-1.4 689.3,-0.9 687.1,-0.4 684.9,0.1 682.7,0.6 680.5,1.0 678.3,1.4 676.0,1.7 673.7,2.0 671.5,2.3 669.2,2.6 666.9,2.8 664.6,3.0 662.3,3.2 660.0,3.3 657.6,3.4 655.3,3.5 653.0,3.6 650.6,3.6 648.2,3.7 645.9,3.7 643.5,3.7 641.1,3.6 638.7,3.6 636.4,3.5 634.0,3.4 631.6,3.3 629.2,3.2 626.8,3.0 624.3,2.8 621.9,2.7 619.5,2.5 617.1,2.3 614.6,2.0 612.2,1.8 609.8,1.6 607.3,1.3 604.9,1.0 602.4,0.7 600.0,0.4 597.5,0.1 595.0,-0.2 592.6,-0.5 590.1,-0.9 587.7,-1.2 585.2,-1.6 582.7,-2.0 580.2,-2.4 577.8,-2.8 575.3,-3.2 572.8,-3.6 570.3,-4.0 567.8,-4.5 565.3,-4.9 562.8,-5.3 560.3,-5.8 557.9,-6.3 555.4,-6.7 552.9,-7.2 550.4,-7.7 547.9,-8.2 545.4,-8.7 542.9,-9.2 540.3,-9.7 537.8,-10.2 535.3,-10.8 532.8,-11.3 530.3,-11.8 527.8,-12.4 525.3,-12.9 522.8,-13.5 520.3,-14.0 517.8,-14.6"/></g><filter id="nI" x="340" y="0" width="410" height="276" filterUnits="userSpaceOnUse" color-interpolation-filters="sRGB"><feTurbulence type="fractalNoise" baseFrequency="0.65" numOctaves="2" seed="7" result="t"/><feColorMatrix in="t" type="matrix" values="1 0 0 0 0  1 0 0 0 0  1 0 0 0 0  0 0 0 0 1" result="g"/><feTurbulence type="fractalNoise" baseFrequency="0.015 0.45" numOctaves="2" seed="8" result="t2"/><feColorMatrix in="t2" type="matrix" values="1 0 0 0 0  1 0 0 0 0  1 0 0 0 0  0 0 0 0 1" result="g2"/><feComposite in="SourceGraphic" in2="g2" operator="arithmetic" k1="0" k2="1" k3="0.15" k4="-0.075" result="s2"/><feComposite in="s2" in2="g" operator="arithmetic" k1="0" k2="1" k3="0.65" k4="-0.325"/></filter><filter id="nO27" x="340" y="0" width="410" height="276" filterUnits="userSpaceOnUse" color-interpolation-filters="sRGB"><feTurbulence type="fractalNoise" baseFrequency="0.65" numOctaves="2" seed="9" result="t"/><feColorMatrix in="t" type="matrix" values="1 0 0 0 0  1 0 0 0 0  1 0 0 0 0  0 0 0 0 1" result="g"/><feTurbulence type="fractalNoise" baseFrequency="0.015 0.45" numOctaves="2" seed="10" result="t2"/><feColorMatrix in="t2" type="matrix" values="1 0 0 0 0  1 0 0 0 0  1 0 0 0 0  0 0 0 0 1" result="g2"/><feComposite in="SourceGraphic" in2="g2" operator="arithmetic" k1="0" k2="1" k3="0.15" k4="-0.075" result="s2"/><feComposite in="s2" in2="g" operator="arithmetic" k1="0" k2="1" k3="0.6" k4="-0.3"/></filter><filter id="nO17" x="340" y="0" width="410" height="276" filterUnits="userSpaceOnUse" color-interpolation-filters="sRGB"><feTurbulence type="fractalNoise" baseFrequency="0.85" numOctaves="2" seed="5" result="t"/><feColorMatrix in="t" type="matrix" values="3.2 0 0 0 -1.1  3.2 0 0 0 -1.1  3.2 0 0 0 -1.1  0 0 0 0 1" result="g"/><feComponentTransfer in="g" result="g2"><feFuncR type="gamma" amplitude="1" exponent="2.6" offset="0"/><feFuncG type="gamma" amplitude="1" exponent="2.6" offset="0"/><feFuncB type="gamma" amplitude="1" exponent="2.6" offset="0"/></feComponentTransfer><feComposite in="SourceGraphic" in2="g2" operator="arithmetic" k1="0" k2="1" k3="0.5" k4="-0.15"/></filter><linearGradient id="gI" x1="356" y1="0" x2="458" y2="0" gradientUnits="userSpaceOnUse"><stop offset="0" stop-color="#f0f0f0"/><stop offset="0.35" stop-color="#c8c8c8"/><stop offset="1" stop-color="#a0a0a0"/></linearGradient><linearGradient id="gO" x1="455" y1="0" x2="616" y2="0" gradientUnits="userSpaceOnUse"><stop offset="0" stop-color="#ffffff"/><stop offset="0.45" stop-color="#f0f0f0"/><stop offset="1" stop-color="#b8b8b8"/></linearGradient><linearGradient id="gD17" x1="610" y1="240" x2="735" y2="25" gradientUnits="userSpaceOnUse"><stop offset="0" stop-color="#2c2c2c"/><stop offset="0.4" stop-color="#484848"/><stop offset="0.6" stop-color="#8a8a8a"/><stop offset="0.85" stop-color="#bababa"/><stop offset="1" stop-color="#c8c8c8"/></linearGradient><linearGradient id="gT" x1="360" y1="0" x2="460" y2="0" gradientUnits="userSpaceOnUse"><stop offset="0" stop-color="#fff" stop-opacity="1"/><stop offset="0.5" stop-color="#fff" stop-opacity="0.75"/><stop offset="1" stop-color="#fff" stop-opacity="0.35"/></linearGradient></defs>
<g stroke="#d9d9d9" stroke-width="1"><line x1="77.08" y1="4.6" x2="77.08" y2="248.9"/><line x1="46.4" y1="218.36" x2="291.8" y2="218.36"/><line x1="107.75" y1="4.6" x2="107.75" y2="248.9"/><line x1="46.4" y1="187.83" x2="291.8" y2="187.83"/><line x1="138.43" y1="4.6" x2="138.43" y2="248.9"/><line x1="46.4" y1="157.29" x2="291.8" y2="157.29"/><line x1="169.1" y1="4.6" x2="169.1" y2="248.9"/><line x1="46.4" y1="126.75" x2="291.8" y2="126.75"/><line x1="199.78" y1="4.6" x2="199.78" y2="248.9"/><line x1="46.4" y1="96.21" x2="291.8" y2="96.21"/><line x1="230.45" y1="4.6" x2="230.45" y2="248.9"/><line x1="46.4" y1="65.67" x2="291.8" y2="65.67"/><line x1="261.12" y1="4.6" x2="261.12" y2="248.9"/><line x1="46.4" y1="35.14" x2="291.8" y2="35.14"/></g>
<g clip-path="url(#axa)" stroke-linejoin="miter">
<g clip-path="url(#pr)" stroke="#ff0000" stroke-width="0.9"><line x1="-85.5" y1="140.3" x2="38.3" y2="16.5"/><line x1="-70.5" y1="140.3" x2="53.3" y2="16.5"/><line x1="-55.5" y1="140.3" x2="68.3" y2="16.5"/><line x1="-40.5" y1="140.3" x2="83.3" y2="16.5"/><line x1="-25.5" y1="140.3" x2="98.3" y2="16.5"/><line x1="-10.5" y1="140.3" x2="113.3" y2="16.5"/><line x1="4.5" y1="140.3" x2="128.3" y2="16.5"/><line x1="19.5" y1="140.3" x2="143.3" y2="16.5"/><line x1="34.5" y1="140.3" x2="158.3" y2="16.5"/><line x1="49.5" y1="140.3" x2="173.3" y2="16.5"/><line x1="64.5" y1="140.3" x2="188.3" y2="16.5"/><line x1="79.5" y1="140.3" x2="203.3" y2="16.5"/><line x1="94.5" y1="140.3" x2="218.3" y2="16.5"/><line x1="109.5" y1="140.3" x2="233.3" y2="16.5"/><line x1="124.5" y1="140.3" x2="248.3" y2="16.5"/><line x1="139.5" y1="140.3" x2="263.3" y2="16.5"/><line x1="154.5" y1="140.3" x2="278.3" y2="16.5"/><line x1="169.5" y1="140.3" x2="293.3" y2="16.5"/><line x1="184.5" y1="140.3" x2="308.3" y2="16.5"/></g>
<polygon points="181,98.4 76.1,18.5 55.2,138.3" fill="none" stroke="#ff0000" stroke-width="1.05"/>
<g clip-path="url(#pg)" stroke="#008000" stroke-width="0.9"><line x1="-74.7" y1="-45.8" x2="76.3" y2="105.2"/><line x1="-59.7" y1="-45.8" x2="91.3" y2="105.2"/><line x1="-44.7" y1="-45.8" x2="106.3" y2="105.2"/><line x1="-29.7" y1="-45.8" x2="121.3" y2="105.2"/><line x1="-14.7" y1="-45.8" x2="136.3" y2="105.2"/><line x1="0.3" y1="-45.8" x2="151.3" y2="105.2"/><line x1="15.3" y1="-45.8" x2="166.3" y2="105.2"/><line x1="30.3" y1="-45.8" x2="181.3" y2="105.2"/><line x1="45.3" y1="-45.8" x2="196.3" y2="105.2"/><line x1="60.3" y1="-45.8" x2="211.3" y2="105.2"/><line x1="75.3" y1="-45.8" x2="226.3" y2="105.2"/><line x1="90.3" y1="-45.8" x2="241.3" y2="105.2"/><line x1="105.3" y1="-45.8" x2="256.3" y2="105.2"/><line x1="120.3" y1="-45.8" x2="271.3" y2="105.2"/><line x1="135.3" y1="-45.8" x2="286.3" y2="105.2"/><line x1="150.3" y1="-45.8" x2="301.3" y2="105.2"/><line x1="165.3" y1="-45.8" x2="316.3" y2="105.2"/><line x1="180.3" y1="-45.8" x2="331.3" y2="105.2"/><line x1="195.3" y1="-45.8" x2="346.3" y2="105.2"/><line x1="210.3" y1="-45.8" x2="361.3" y2="105.2"/><line x1="225.3" y1="-45.8" x2="376.3" y2="105.2"/></g>
<polygon points="218.5,103.2 81.6,42.1 189.3,-43.8" fill="none" stroke="#008000" stroke-width="1.0"/>
<g clip-path="url(#pb)" stroke="#0000ff" stroke-width="0.9"><line x1="-58.7" y1="203.5" x2="48.4" y2="96.4"/><line x1="-43.7" y1="203.5" x2="63.4" y2="96.4"/><line x1="-28.7" y1="203.5" x2="78.4" y2="96.4"/><line x1="-13.7" y1="203.5" x2="93.4" y2="96.4"/><line x1="1.3" y1="203.5" x2="108.4" y2="96.4"/><line x1="16.3" y1="203.5" x2="123.4" y2="96.4"/><line x1="31.3" y1="203.5" x2="138.4" y2="96.4"/><line x1="46.3" y1="203.5" x2="153.4" y2="96.4"/><line x1="61.3" y1="203.5" x2="168.4" y2="96.4"/><line x1="76.3" y1="203.5" x2="183.4" y2="96.4"/><line x1="91.3" y1="203.5" x2="198.4" y2="96.4"/><line x1="106.3" y1="203.5" x2="213.4" y2="96.4"/><line x1="121.3" y1="203.5" x2="228.4" y2="96.4"/><line x1="136.3" y1="203.5" x2="243.4" y2="96.4"/><line x1="151.3" y1="203.5" x2="258.4" y2="96.4"/><line x1="166.3" y1="203.5" x2="273.4" y2="96.4"/><line x1="181.3" y1="203.5" x2="288.4" y2="96.4"/><line x1="196.3" y1="203.5" x2="303.4" y2="96.4"/></g>
<polygon points="181,98.4 53.8,133 100.7,201.5" fill="none" stroke="#0000ff" stroke-width="1.35"/>
<g clip-path="url(#pc)" stroke="#00ffff" stroke-width="0.9"><line x1="-40.5" y1="34.2" x2="57.7" y2="132.4"/><line x1="-25.5" y1="34.2" x2="72.7" y2="132.4"/><line x1="-10.5" y1="34.2" x2="87.7" y2="132.4"/><line x1="4.5" y1="34.2" x2="102.7" y2="132.4"/><line x1="19.5" y1="34.2" x2="117.7" y2="132.4"/><line x1="34.5" y1="34.2" x2="132.7" y2="132.4"/><line x1="49.5" y1="34.2" x2="147.7" y2="132.4"/><line x1="64.5" y1="34.2" x2="162.7" y2="132.4"/><line x1="79.5" y1="34.2" x2="177.7" y2="132.4"/><line x1="94.5" y1="34.2" x2="192.7" y2="132.4"/><line x1="109.5" y1="34.2" x2="207.7" y2="132.4"/><line x1="124.5" y1="34.2" x2="222.7" y2="132.4"/><line x1="139.5" y1="34.2" x2="237.7" y2="132.4"/><line x1="154.5" y1="34.2" x2="252.7" y2="132.4"/><line x1="169.5" y1="34.2" x2="267.7" y2="132.4"/><line x1="184.5" y1="34.2" x2="282.7" y2="132.4"/><line x1="199.5" y1="34.2" x2="297.7" y2="132.4"/><line x1="214.5" y1="34.2" x2="312.7" y2="132.4"/><line x1="229.5" y1="34.2" x2="327.7" y2="132.4"/></g>
<polygon points="218.5,103.2 84.2,36.2 71.4,130.4" fill="none" stroke="#00ffff" stroke-width="1.1"/>
<ellipse cx="169.1" cy="126.75" rx="88.71" ry="88.31" fill="none" stroke="#ffa500" stroke-width="1.1"/>
<polyline points="253.44,126.75 252.08,125.31 250.71,123.91 249.32,122.56 247.92,121.26 246.52,120.01 245.11,118.8 243.69,117.63 242.27,116.51 240.86,115.44 239.44,114.4 238.03,113.41 236.62,112.46 235.23,111.55 233.84,110.68 232.45,109.85 231.08,109.06 229.73,108.3 228.38,107.58 227.04,106.89 225.72,106.23 224.42,105.61 223.13,105.02 221.85,104.46 220.59,103.93 219.35,103.43 218.12,102.95 216.91,102.5 215.71,102.08 214.53,101.68 213.37,101.31 212.23,100.95 211.1,100.62 209.99,100.32 208.89,100.03 207.82,99.76 206.76,99.51 205.71,99.28 204.69,99.07 203.68,98.88 202.68,98.7 201.7,98.53 200.74,98.39 199.8,98.25 198.86,98.14 197.95,98.03 197.05,97.94 196.16,97.86 195.29,97.79 194.44,97.74 193.59,97.69 192.77,97.66 191.95,97.63 191.15,97.62 190.36,97.62 189.59,97.62 188.83,97.63 188.08,97.66 187.34,97.69 186.62,97.73 185.9,97.77 185.2,97.83 184.51,97.89 183.84,97.96 183.17,98.03 182.51,98.11 181.87,98.2 181.23,98.29 180.61,98.39 180,98.49 179.39,98.6 178.8,98.72 178.21,98.84 177.63,98.96 177.07,99.09 176.51,99.22 175.96,99.36 175.42,99.5 174.89,99.65 174.36,99.8 173.85,99.95 173.34,100.11 172.84,100.27 172.35,100.44 171.86,100.6 171.38,100.77 170.91,100.95 170.45,101.13 169.99,101.31 169.54,101.49 169.1,101.67 168.66,101.86 168.23,102.05 167.81,102.25 167.39,102.44 166.98,102.64 166.58,102.84 166.18,103.05 165.78,103.25 165.4,103.46 165.01,103.67 164.64,103.89 164.26,104.1 163.9,104.32 163.54,104.54 163.18,104.76 162.83,104.98 162.48,105.21 162.14,105.43 161.81,105.66 161.47,105.89 161.15,106.13 160.83,106.36 160.51,106.6 160.19,106.84 159.88,107.08 159.58,107.32 159.28,107.56 158.98,107.81 158.69,108.05 158.4,108.3 158.12,108.55 157.84,108.81 157.56,109.06 157.29,109.32 157.02,109.57 156.75,109.83 156.49,110.09 156.23,110.36 155.98,110.62 155.73,110.89 155.48,111.16 155.24,111.42 155,111.7 154.76,111.97 154.53,112.24 154.3,112.52 154.07,112.8 153.85,113.08 153.63,113.36 153.41,113.65 153.2,113.93 152.99,114.22 152.78,114.51 152.58,114.8 152.38,115.09 152.18,115.39 151.98,115.68 151.79,115.98 151.6,116.28 151.42,116.59 151.24,116.89 151.06,117.2 150.88,117.51 150.71,117.82 150.54,118.13 150.37,118.45 150.2,118.77 150.04,119.09 149.89,119.41 149.73,119.73 149.58,120.06 149.43,120.39 149.28,120.72 149.14,121.05 149,121.39 148.86,121.73 148.73,122.07 148.6,122.41 148.47,122.76 148.35,123.11 148.22,123.46 148.11,123.81 147.99,124.17 147.88,124.53 147.77,124.89 147.66,125.26 147.56,125.63 147.46,126 147.37,126.37 147.28,126.75 147.19,127.13 147.1,127.51 147.02,127.9 146.94,128.29 146.87,128.69 146.8,129.08 146.73,129.48 146.67,129.89 146.61,130.3 146.55,130.71 146.5,131.12 146.45,131.54 146.41,131.96 146.37,132.39 146.34,132.82 146.31,133.26 146.28,133.7 146.26,134.14 146.24,134.59 146.23,135.04 146.22,135.49 146.22,135.95 146.22,136.42 146.22,136.89 146.24,137.36 146.25,137.84 146.28,138.33 146.31,138.82 146.34,139.31 146.38,139.81 146.43,140.31 146.48,140.82 146.54,141.34 146.6,141.86 146.67,142.38 146.75,142.92 146.83,143.45 146.92,144 147.02,144.55 147.13,145.1 147.24,145.66 147.37,146.23 147.5,146.81 147.63,147.39 147.78,147.97 147.94,148.57 148.1,149.17 148.28,149.77 148.46,150.39 148.65,151.01 148.86,151.64 149.07,152.27 149.29,152.92 149.53,153.57 149.78,154.22 150.04,154.89 150.31,155.56 150.59,156.24 150.89,156.93 151.19,157.62 151.52,158.33 151.85,159.04 152.21,159.76 152.57,160.49 152.95,161.22 153.35,161.97 153.76,162.72 154.19,163.48 154.64,164.25 155.11,165.02 155.59,165.81 156.09,166.6 156.62,167.4 157.16,168.21 157.72,169.03 158.3,169.85 158.91,170.69 159.54,171.53 160.19,172.38 160.87,173.23 161.57,174.09 162.29,174.96 163.05,175.84 163.82,176.72 164.63,177.61 165.46,178.5 166.33,179.4 167.22,180.3 168.15,181.21 169.1,182.12 170.09,183.04 171.11,183.95 172.16,184.87 173.25,185.79 174.37,186.71 175.53,187.63 176.72,188.55 177.95,189.46 179.22,190.37 180.53,191.27 181.87,192.17 183.26,193.06 184.68,193.94 186.15,194.81 187.65,195.67 189.19,196.51 190.78,197.33 192.4,198.14 194.06,198.93 195.77,199.69 197.51,200.43 199.29,201.14 201.11,201.83 202.97,202.48 204.86,203.09 206.78,203.67 208.74,204.2 210.73,204.7 212.75,205.14 214.79,205.54 216.86,205.89 218.95,206.18 221.06,206.41 223.19,206.58 225.32,206.69 227.47,206.73 229.61,206.7 231.76,206.59 233.9,206.42 236.04,206.16 238.15,205.83 240.25,205.42 242.32,204.92 244.37,204.34 246.37,203.68 248.34,202.93 250.26,202.09 252.12,201.17 253.93,200.16 255.67,199.07 257.35,197.89 258.95,196.64 260.48,195.3 261.92,193.88 263.27,192.4 264.54,190.84 265.71,189.21 266.78,187.51 267.76,185.76 268.63,183.95 269.4,182.1 270.06,180.19 270.62,178.24 271.07,176.26 271.42,174.25 271.66,172.21 271.8,170.15 271.84,168.07 271.78,165.99 271.62,163.9 271.36,161.8 271.02,159.72 270.58,157.64 270.06,155.57 269.46,153.52 268.79,151.49 268.03,149.49 267.21,147.51 266.33,145.56 265.38,143.65 264.38,141.77 263.32,139.93 262.21,138.13 261.06,136.37 259.87,134.66 258.65,132.98 257.38,131.36 256.1,129.77 254.78,128.24 253.44,126.75" fill="none" stroke="#111" stroke-width="1.4" stroke-dasharray="3.4 2.1" clip-path="url(#axa)"/>
<polyline points="206.59,46.71 205.18,46.07 203.76,45.46 202.33,44.87 200.89,44.3 199.44,43.76 197.98,43.25 196.51,42.76 195.04,42.29 193.55,41.86 192.06,41.44 190.56,41.06 189.06,40.7 187.54,40.37 186.03,40.06 184.5,39.78 182.98,39.52 181.45,39.3 179.91,39.09 178.37,38.92 176.83,38.77 175.29,38.65 173.74,38.56 172.2,38.49 170.65,38.45 169.1,38.44 167.55,38.45 166,38.49 164.46,38.56 162.91,38.65 161.37,38.77 159.83,38.92 158.29,39.09 156.75,39.3 155.22,39.52 153.7,39.78 152.17,40.06 150.66,40.37 149.14,40.7 147.64,41.06 146.14,41.44 144.65,41.86 143.16,42.29 141.69,42.76 140.22,43.25 138.76,43.76 137.31,44.3 135.87,44.87 134.44,45.46 133.02,46.07 131.61,46.71 130.21,47.37 128.83,48.06 127.45,48.77 126.09,49.51 124.74,50.27 123.41,51.05 122.09,51.86 120.78,52.68 119.49,53.53 118.22,54.41 116.96,55.3 115.71,56.22 114.48,57.16 113.27,58.12 112.08,59.1 110.9,60.1 109.74,61.12 108.6,62.16 107.48,63.22 106.37,64.3 105.29,65.4 104.22,66.52 103.17,67.66 102.15,68.81 101.14,69.98 100.16,71.17 99.19,72.38 98.25,73.6 97.33,74.84 96.43,76.09 95.55,77.37 94.7,78.65 93.87,79.95 93.06,81.26 92.27,82.59 91.51,83.93 90.77,85.29 90.06,86.66 89.37,88.04 88.7,89.43 88.06,90.83 87.44,92.24 86.85,93.67 86.28,95.1 85.74,96.54 85.22,98 84.73,99.46 84.26,100.93 83.82,102.41 83.41,103.89 83.02,105.38 82.66,106.88 82.33,108.39 82.02,109.9 81.74,111.41 81.48,112.93 81.25,114.46 81.05,115.99 80.87,117.52 80.73,119.05 80.6,120.59 80.51,122.13 80.44,123.67 80.4,125.21 80.39,126.75 80.4,128.29 80.44,129.83 80.51,131.37 80.6,132.91 80.73,134.45 80.87,135.98 81.05,137.51 81.25,139.04 81.48,140.57 81.74,142.09 82.02,143.6 82.33,145.11 82.66,146.62 83.02,148.12 83.41,149.61 83.82,151.09 84.26,152.57 84.73,154.04 85.22,155.5 85.74,156.96 86.28,158.4 86.85,159.83 87.44,161.26 88.06,162.67 88.7,164.07 89.37,165.46 90.06,166.84 90.77,168.21 91.51,169.57 92.27,170.91 93.06,172.24 93.87,173.55 94.7,174.85 95.55,176.13 96.43,177.41 97.33,178.66 98.25,179.9 99.19,181.12 100.16,182.33 101.14,183.52 102.15,184.69 103.17,185.84 104.22,186.98 105.29,188.1 106.37,189.2 107.48,190.28 108.6,191.34 109.74,192.38" fill="none" stroke="#ffa500" stroke-width="3.4"/>
<polygon points="90.3,82.8 87.7,91.4 94.8,91.4" fill="none" stroke="#ffa500" stroke-width="1.7"/>
</g>
<polygon points="168.9,122 170.02,125.06 173.27,125.18 170.71,127.19 171.6,130.32 168.9,128.5 166.2,130.32 167.09,127.19 164.53,125.18 167.78,125.06" fill="#ffff00" stroke="#6b6b00" stroke-width="0.6"/>
<circle cx="181.0" cy="98.4" r="2.3" fill="#000"/>
<circle cx="218.5" cy="103.2" r="2.4" fill="#ff0000"/>
<line x1="216.4" y1="32.8" x2="211.27" y2="40.64" stroke="#ff0000" stroke-width="1.3"/><polygon points="208.8,44.4 209.62,38.96 213.46,41.48" fill="#ff0000"/>
<line x1="121.7" y1="218.6" x2="112.09" y2="200.28" stroke="#ff0000" stroke-width="1.3"/><polygon points="110,196.3 114.36,199.66 110.29,201.8" fill="#ff0000"/>
<text x="212" y="28.8" font-family="Liberation Sans, sans-serif" font-size="9.63" font-weight="bold" fill="#ff0000" textLength="17.02" lengthAdjust="spacingAndGlyphs">65°</text>
<text x="113.6" y="228.2" font-family="Liberation Sans, sans-serif" font-size="9.63" font-weight="bold" fill="#ff0000" textLength="23.29" lengthAdjust="spacingAndGlyphs">228°</text>
<rect x="46.4" y="4.6" width="245.4" height="244.3" fill="none" stroke="#666" stroke-width="1"/>
<g stroke="#666" stroke-width="1"><line x1="46.4" y1="248.9" x2="46.4" y2="251.9"/><line x1="43.4" y1="248.9" x2="46.4" y2="248.9"/><line x1="77.08" y1="248.9" x2="77.08" y2="251.9"/><line x1="43.4" y1="218.36" x2="46.4" y2="218.36"/><line x1="107.75" y1="248.9" x2="107.75" y2="251.9"/><line x1="43.4" y1="187.83" x2="46.4" y2="187.83"/><line x1="138.43" y1="248.9" x2="138.43" y2="251.9"/><line x1="43.4" y1="157.29" x2="46.4" y2="157.29"/><line x1="169.1" y1="248.9" x2="169.1" y2="251.9"/><line x1="43.4" y1="126.75" x2="46.4" y2="126.75"/><line x1="199.78" y1="248.9" x2="199.78" y2="251.9"/><line x1="43.4" y1="96.21" x2="46.4" y2="96.21"/><line x1="230.45" y1="248.9" x2="230.45" y2="251.9"/><line x1="43.4" y1="65.67" x2="46.4" y2="65.67"/><line x1="261.12" y1="248.9" x2="261.12" y2="251.9"/><line x1="43.4" y1="35.14" x2="46.4" y2="35.14"/><line x1="291.8" y1="248.9" x2="291.8" y2="251.9"/><line x1="43.4" y1="4.6" x2="46.4" y2="4.6"/></g>
<text x="46.4" y="260.6" font-family="Liberation Sans, sans-serif" font-size="9.52" text-anchor="middle" fill="#111" stroke="#111" stroke-width="0.25" textLength="27.27" lengthAdjust="spacingAndGlyphs">−1.00</text><text x="41.3" y="252.2" font-family="Liberation Sans, sans-serif" font-size="9.52" text-anchor="end" fill="#111" stroke="#111" stroke-width="0.25" textLength="27.27" lengthAdjust="spacingAndGlyphs">−1.00</text><text x="77.08" y="260.6" font-family="Liberation Sans, sans-serif" font-size="9.52" text-anchor="middle" fill="#111" stroke="#111" stroke-width="0.25" textLength="27.27" lengthAdjust="spacingAndGlyphs">−0.75</text><text x="41.3" y="221.66" font-family="Liberation Sans, sans-serif" font-size="9.52" text-anchor="end" fill="#111" stroke="#111" stroke-width="0.25" textLength="27.27" lengthAdjust="spacingAndGlyphs">−0.75</text><text x="107.75" y="260.6" font-family="Liberation Sans, sans-serif" font-size="9.52" text-anchor="middle" fill="#111" stroke="#111" stroke-width="0.25" textLength="27.27" lengthAdjust="spacingAndGlyphs">−0.50</text><text x="41.3" y="191.13" font-family="Liberation Sans, sans-serif" font-size="9.52" text-anchor="end" fill="#111" stroke="#111" stroke-width="0.25" textLength="27.27" lengthAdjust="spacingAndGlyphs">−0.50</text><text x="138.43" y="260.6" font-family="Liberation Sans, sans-serif" font-size="9.52" text-anchor="middle" fill="#111" stroke="#111" stroke-width="0.25" textLength="27.27" lengthAdjust="spacingAndGlyphs">−0.25</text><text x="41.3" y="160.59" font-family="Liberation Sans, sans-serif" font-size="9.52" text-anchor="end" fill="#111" stroke="#111" stroke-width="0.25" textLength="27.27" lengthAdjust="spacingAndGlyphs">−0.25</text><text x="169.1" y="260.6" font-family="Liberation Sans, sans-serif" font-size="9.52" text-anchor="middle" fill="#111" stroke="#111" stroke-width="0.25" textLength="19.82" lengthAdjust="spacingAndGlyphs">0.00</text><text x="41.3" y="130.05" font-family="Liberation Sans, sans-serif" font-size="9.52" text-anchor="end" fill="#111" stroke="#111" stroke-width="0.25" textLength="19.82" lengthAdjust="spacingAndGlyphs">0.00</text><text x="199.78" y="260.6" font-family="Liberation Sans, sans-serif" font-size="9.52" text-anchor="middle" fill="#111" stroke="#111" stroke-width="0.25" textLength="19.82" lengthAdjust="spacingAndGlyphs">0.25</text><text x="41.3" y="99.51" font-family="Liberation Sans, sans-serif" font-size="9.52" text-anchor="end" fill="#111" stroke="#111" stroke-width="0.25" textLength="19.82" lengthAdjust="spacingAndGlyphs">0.25</text><text x="230.45" y="260.6" font-family="Liberation Sans, sans-serif" font-size="9.52" text-anchor="middle" fill="#111" stroke="#111" stroke-width="0.25" textLength="19.82" lengthAdjust="spacingAndGlyphs">0.50</text><text x="41.3" y="68.97" font-family="Liberation Sans, sans-serif" font-size="9.52" text-anchor="end" fill="#111" stroke="#111" stroke-width="0.25" textLength="19.82" lengthAdjust="spacingAndGlyphs">0.50</text><text x="261.12" y="260.6" font-family="Liberation Sans, sans-serif" font-size="9.52" text-anchor="middle" fill="#111" stroke="#111" stroke-width="0.25" textLength="19.82" lengthAdjust="spacingAndGlyphs">0.75</text><text x="41.3" y="38.44" font-family="Liberation Sans, sans-serif" font-size="9.52" text-anchor="end" fill="#111" stroke="#111" stroke-width="0.25" textLength="19.82" lengthAdjust="spacingAndGlyphs">0.75</text><text x="291.8" y="260.6" font-family="Liberation Sans, sans-serif" font-size="9.52" text-anchor="middle" fill="#111" stroke="#111" stroke-width="0.25" textLength="19.82" lengthAdjust="spacingAndGlyphs">1.00</text><text x="41.3" y="7.9" font-family="Liberation Sans, sans-serif" font-size="9.52" text-anchor="end" fill="#111" stroke="#111" stroke-width="0.25" textLength="19.82" lengthAdjust="spacingAndGlyphs">1.00</text>
<text x="169.05" y="271.5" font-family="Liberation Sans, sans-serif" font-size="10.06" text-anchor="middle" fill="#111" stroke="#111" stroke-width="0.25" textLength="52.43" lengthAdjust="spacingAndGlyphs">HAE-X [AU]</text>
<text transform="translate(8,126.3) rotate(-90)" font-family="Liberation Sans, sans-serif" font-size="10.06" text-anchor="middle" fill="#111" stroke="#111" stroke-width="0.25" textLength="51.09" lengthAdjust="spacingAndGlyphs">HAE-Y [AU]</text>
<text x="269" y="27.3" font-family="Liberation Sans, sans-serif" font-size="22.5" font-weight="bold" fill="#000">a</text>
<rect x="188.6" y="158.2" width="99.4" height="87.1" rx="2" fill="#fff" fill-opacity="0.8" stroke="#cccccc" stroke-width="0.8"/><line x1="190.4" y1="163.9" x2="207.1" y2="163.9" stroke="#ffa500" stroke-width="2"/><text x="212.6" y="166.9" font-family="Liberation Sans, sans-serif" font-size="8.08" fill="#111" stroke="#111" stroke-width="0.25" textLength="22.73" lengthAdjust="spacingAndGlyphs">Venus</text><line x1="190.8" y1="174.57" x2="206" y2="174.57" stroke="#000" stroke-width="2.1" stroke-dasharray="7.2 3.6"/><text x="212.6" y="177.57" font-family="Liberation Sans, sans-serif" font-size="8.08" fill="#111" stroke="#111" stroke-width="0.25" textLength="13.9" lengthAdjust="spacingAndGlyphs">PSP</text><line x1="190.4" y1="185.24" x2="207.1" y2="185.24" stroke="#ff0000" stroke-width="2"/><text x="212.6" y="188.24" font-family="Liberation Sans, sans-serif" font-size="8.08" fill="#111" stroke="#111" stroke-width="0.25" textLength="72.48" lengthAdjust="spacingAndGlyphs">Outer - 2019/08/27</text><line x1="190.4" y1="195.91" x2="207.1" y2="195.91" stroke="#008000" stroke-width="2"/><text x="212.6" y="198.91" font-family="Liberation Sans, sans-serif" font-size="8.08" fill="#111" stroke="#111" stroke-width="0.25" textLength="72.48" lengthAdjust="spacingAndGlyphs">Outer - 2019/08/17</text><line x1="190.4" y1="206.58" x2="207.1" y2="206.58" stroke="#0000ff" stroke-width="2"/><text x="212.6" y="209.58" font-family="Liberation Sans, sans-serif" font-size="8.08" fill="#111" stroke="#111" stroke-width="0.25" textLength="70.59" lengthAdjust="spacingAndGlyphs">Inner - 2019/08/27</text><line x1="190.4" y1="217.25" x2="207.1" y2="217.25" stroke="#00ffff" stroke-width="2"/><text x="212.6" y="220.25" font-family="Liberation Sans, sans-serif" font-size="8.08" fill="#111" stroke="#111" stroke-width="0.25" textLength="70.59" lengthAdjust="spacingAndGlyphs">Inner - 2019/08/17</text><circle cx="199.1" cy="227.92" r="2.5" fill="#000"/><text x="212.6" y="230.92" font-family="Liberation Sans, sans-serif" font-size="8.08" fill="#111" stroke="#111" stroke-width="0.25" textLength="64.94" lengthAdjust="spacingAndGlyphs">PSP - 2019/08/27</text><circle cx="199.1" cy="238.59" r="2.5" fill="#ff0000"/><text x="212.6" y="241.59" font-family="Liberation Sans, sans-serif" font-size="8.08" fill="#111" stroke="#111" stroke-width="0.25" textLength="64.94" lengthAdjust="spacingAndGlyphs">PSP - 2019/08/17</text>
<rect x="350.3" y="5.4" width="389.3" height="243.7" fill="#d3d3d3"/>
<g clip-path="url(#axb)">
<use href="#grid" stroke-opacity="0.8"/>
<g clip-path="url(#cO17)"><g filter="url(#nO17)"><rect x="570" y="0" width="180" height="260" fill="url(#gD17)"/><ellipse cx="640" cy="62" rx="28" ry="26" fill="#707070" filter="url(#bl8)"/><ellipse cx="680" cy="92" rx="65" ry="6" fill="#a0a0a0" filter="url(#bl4)"/><rect x="608" y="100" width="22" height="155" fill="#3a3a3a" filter="url(#bl4)"/><polyline points="578,37.8 625,33.6 655,29" fill="none" stroke="#1a1a1a" stroke-width="3" filter="url(#bl1)"/><polyline points="725,8 731,30 735,66 737,90" fill="none" stroke="#1a1a1a" stroke-width="3" filter="url(#bl1)"/></g></g>
<g clip-path="url(#cO27)"><g filter="url(#nO27)"><rect x="430" y="30" width="200" height="230" fill="#767676"/><rect x="440" y="140" width="180" height="110" fill="#6a6a6a"/><rect x="452" y="50" width="22" height="45" fill="#959595" filter="url(#bl4)"/><rect x="582" y="40" width="45" height="62" fill="#9c9c9c" filter="url(#bl4)"/><rect x="588" y="190" width="30" height="60" fill="#7c7c7c" filter="url(#bl4)"/><polygon points="455,106 540,104 560,110 560,130 520,138 455,140" fill="#4a4a4a" filter="url(#bl4)"/><rect x="452" y="112" width="20" height="50" fill="#404040" filter="url(#bl2)"/><polygon points="455,95 540,92 616,87 616,100 540,104.5 455,107" fill="url(#gO)" filter="url(#bl1)"/><ellipse cx="470" cy="212" rx="35" ry="12" fill="#8c8c8c" filter="url(#bl8)"/></g></g>
<g clip-path="url(#cI)"><g filter="url(#nI)"><rect x="340" y="60" width="130" height="140" fill="#646464"/><polygon points="370,100 420,90 458,82 458,96 420,100 370,108" fill="#8e8e8e" filter="url(#bl4)"/><polygon points="350,121 400,116 425,118 425,132 350,138" fill="#2e2e2e" filter="url(#bl4)"/><path d="M362,111 C380,108 392,104 405,101.5 S440,95 460,92" fill="none" stroke="url(#gT)" stroke-width="4" filter="url(#bl1)"/><ellipse cx="368" cy="110" rx="15" ry="8" fill="#fff" filter="url(#bl2)"/><ellipse cx="390" cy="106" rx="14" ry="4" fill="#e0e0e0" filter="url(#bl2)"/></g></g>
<g filter="url(#bl05)"><ellipse cx="506.7" cy="92" rx="3.6" ry="6" fill="#3a3a3a"/><ellipse cx="506.7" cy="92" rx="2.8" ry="5.3" fill="#f4f4f4"/><ellipse cx="507.4" cy="107.5" rx="3.4" ry="5.8" fill="#555"/><ellipse cx="507.4" cy="107.5" rx="2.8" ry="5.2" fill="#eee"/><ellipse cx="507" cy="100" rx="6" ry="2.5" fill="#fff"/></g>
<g filter="url(#bl05)"><line x1="536.6" y1="49" x2="536.6" y2="96" stroke="#222" stroke-width="2"/><ellipse cx="537" cy="69" rx="3.3" ry="8" fill="#e8e8e8"/><ellipse cx="537.2" cy="85" rx="3.2" ry="7.5" fill="#e4e4e4"/><line x1="535.6" y1="60" x2="535.6" y2="92" stroke="#555" stroke-width="0.8"/><ellipse cx="536.8" cy="78" rx="4.5" ry="2.6" fill="#fff"/><path d="M532.5,75.5 L541,80.5 M532.5,80.5 L541,75.5" stroke="#fff" stroke-width="1.2"/></g>
<use href="#grid" stroke-opacity="0.5" clip-path="url(#cO27)"/><use href="#grid" stroke-opacity="0.5" clip-path="url(#cI)"/><use href="#grid" stroke-opacity="0.3" clip-path="url(#cO17)"/>
<g fill="#ff0000"><circle cx="362.1" cy="116.4" r="1.75"/><circle cx="372.9" cy="114.5" r="1.75"/><circle cx="383.7" cy="113.2" r="1.75"/><circle cx="394.5" cy="112.4" r="1.75"/><circle cx="405.3" cy="111" r="1.75"/><circle cx="416.9" cy="109.4" r="1.75"/><circle cx="428.3" cy="108.3" r="1.75"/><circle cx="439.6" cy="107" r="1.75"/><circle cx="451.2" cy="105.6" r="1.75"/><circle cx="461.2" cy="104.8" r="1.75"/><circle cx="472.8" cy="103.5" r="1.75"/><circle cx="485" cy="102.4" r="1.75"/><circle cx="497.4" cy="101.2" r="1.75"/><circle cx="510" cy="99.7" r="1.75"/><circle cx="522.8" cy="98.5" r="1.75"/><circle cx="536.2" cy="97.3" r="1.75"/><circle cx="549.8" cy="96.1" r="1.75"/><circle cx="564.8" cy="95.1" r="1.75"/><circle cx="578.8" cy="94" r="1.75"/><circle cx="593.9" cy="92.9" r="1.75"/><circle cx="609.8" cy="91.8" r="1.75"/><circle cx="624.7" cy="91" r="1.75"/><circle cx="636" cy="90.5" r="1.75"/><circle cx="647.9" cy="89.7" r="1.75"/><circle cx="659.8" cy="89.5" r="1.75"/><circle cx="673.1" cy="89.1" r="1.75"/><circle cx="686.6" cy="88.8" r="1.75"/><circle cx="701.4" cy="88.5" r="1.75"/><circle cx="716.6" cy="88.3" r="1.75"/><circle cx="734" cy="88.4" r="1.75"/></g>
<polyline points="350,121.3 356.63,120.83 363.25,120.36 369.88,119.89 376.51,119.42 383.14,118.95 389.76,118.48 396.39,118.01 403.02,117.54 409.64,117.07 416.27,116.59 422.9,116.12 429.53,115.65 436.15,115.18 442.78,114.71 449.41,114.24 456.03,113.79 462.66,113.34 469.29,112.89 475.92,112.43 482.54,111.98 489.17,111.53 495.8,111.08 502.42,110.63 509.05,110.18 515.68,109.73 522.31,109.27 528.93,108.82 535.56,108.37 542.19,107.93 548.81,107.51 555.44,107.1 562.07,106.69 568.69,106.27 575.32,105.86 581.95,105.45 588.58,105.03 595.2,104.62 601.83,104.21 608.46,103.79 615.08,103.38 621.71,102.96 628.34,102.55 634.97,102.14 641.59,101.72 648.22,101.31 654.85,101 661.47,100.73 668.1,100.46 674.73,100.19 681.36,99.93 687.98,99.66 694.61,99.39 701.24,99.12 707.86,98.85 714.49,98.58 721.12,98.31 727.75,98.04 734.37,97.77 741,97.5" fill="none" stroke="#ffa500" stroke-width="1.9" stroke-dasharray="4.8 2.2"/>
<polyline points="350,117.6 356.63,117.11 363.25,116.62 369.88,116.13 376.51,115.64 383.14,115.15 389.76,114.66 396.39,114.17 403.02,113.68 409.64,113.19 416.27,112.7 422.9,112.21 429.53,111.72 436.15,111.22 442.78,110.73 449.41,110.24 456.03,109.8 462.66,109.36 469.29,108.93 475.92,108.49 482.54,108.05 489.17,107.61 495.8,107.18 502.42,106.74 509.05,106.3 515.68,105.87 522.31,105.43 528.93,104.99 535.56,104.55 542.19,104.12 548.81,103.68 555.44,103.47 562.07,103.32 568.69,103.17 575.32,103.02 581.95,102.87 588.58,102.71 595.2,102.56 601.83,102.41 608.46,102.26 615.08,102.1 621.71,101.95 628.34,101.8 634.97,101.65 641.59,101.49 648.22,101.34 654.85,101.27 661.47,101.24 668.1,101.2 674.73,101.16 681.36,101.13 687.98,101.09 694.61,101.05 701.24,101.02 707.86,100.98 714.49,100.95 721.12,100.91 727.75,100.87 734.37,100.84 741,100.8" fill="none" stroke="#ffff00" stroke-width="1.6" stroke-dasharray="1.6 1.85"/>
</g>
<text stroke="#fff" stroke-width="0.2" x="590.6" y="59.4" font-family="Liberation Sans, sans-serif" font-size="10" font-weight="bold" text-anchor="end" fill="#fff" textLength="40.16" lengthAdjust="spacingAndGlyphs">Mercury</text>
<text stroke="#fff" stroke-width="0.2" x="570.2" y="121.4" font-family="Liberation Sans, sans-serif" font-size="10" font-weight="bold" text-anchor="end" fill="#fff" textLength="29.72" lengthAdjust="spacingAndGlyphs">Venus</text>
<text stroke="#fff" stroke-width="0.2" x="446.9" y="169.8" font-family="Liberation Sans, sans-serif" font-size="8.51" font-weight="bold" text-anchor="end" fill="#fff" textLength="33.19" lengthAdjust="spacingAndGlyphs">WISPR-I</text>
<text stroke="#fff" stroke-width="0.2" x="448.4" y="178.4" font-family="Liberation Sans, sans-serif" font-size="8.51" font-weight="bold" text-anchor="end" fill="#fff" textLength="81.46" lengthAdjust="spacingAndGlyphs">2019-08-27 T 01 UT</text>
<text stroke="#fff" stroke-width="0.2" x="597.3" y="217.2" font-family="Liberation Sans, sans-serif" font-size="8.51" font-weight="bold" text-anchor="end" fill="#fff" textLength="36.73" lengthAdjust="spacingAndGlyphs">WISPR-O</text>
<text stroke="#fff" stroke-width="0.2" x="597.3" y="225.8" font-family="Liberation Sans, sans-serif" font-size="8.51" font-weight="bold" text-anchor="end" fill="#fff" textLength="81.46" lengthAdjust="spacingAndGlyphs">2019-08-27 T 01 UT</text>
<text stroke="#fff" stroke-width="0.2" x="699.4" y="233.4" font-family="Liberation Sans, sans-serif" font-size="8.51" font-weight="bold" text-anchor="end" fill="#fff" textLength="36.73" lengthAdjust="spacingAndGlyphs">WISPR-O</text>
<text stroke="#fff" stroke-width="0.2" x="699.4" y="242" font-family="Liberation Sans, sans-serif" font-size="8.51" font-weight="bold" text-anchor="end" fill="#fff" textLength="81.46" lengthAdjust="spacingAndGlyphs">2019-08-17 T 22 UT</text>
<g stroke="#fff" stroke-width="1"><line x1="558.8" y1="64.9" x2="545.5" y2="75.5"/><line x1="530" y1="111.2" x2="519.5" y2="104.9"/></g>
<polygon points="544.5,76.3 547,72.4 548.6,74.4" fill="#fff"/><polygon points="518.8,104.5 522.9,105 521.6,107.2" fill="#fff"/>
<text x="372.5" y="30.8" font-family="Liberation Sans, sans-serif" font-size="22" font-weight="bold" fill="#000">b</text>
<rect x="350.3" y="5.4" width="389.3" height="243.7" fill="none" stroke="#666" stroke-width="1"/>
<g stroke="#666" stroke-width="1"><line x1="347.3" y1="33.94" x2="350.3" y2="33.94"/><line x1="347.3" y1="64" x2="350.3" y2="64"/><line x1="347.3" y1="94.06" x2="350.3" y2="94.06"/><line x1="347.3" y1="124.12" x2="350.3" y2="124.12"/><line x1="347.3" y1="154.18" x2="350.3" y2="154.18"/><line x1="347.3" y1="184.24" x2="350.3" y2="184.24"/><line x1="347.3" y1="214.3" x2="350.3" y2="214.3"/><line x1="347.3" y1="244.36" x2="350.3" y2="244.36"/><line x1="358.1" y1="249.1" x2="358.1" y2="252.1"/><line x1="383.2" y1="249.1" x2="383.2" y2="252.1"/><line x1="412.3" y1="249.1" x2="412.3" y2="252.1"/><line x1="448" y1="249.1" x2="448" y2="252.1"/><line x1="492.3" y1="249.1" x2="492.3" y2="252.1"/><line x1="541.9" y1="249.1" x2="541.9" y2="252.1"/><line x1="595.3" y1="249.1" x2="595.3" y2="252.1"/><line x1="651.1" y1="249.1" x2="651.1" y2="252.1"/><line x1="705.8" y1="249.1" x2="705.8" y2="252.1"/><line x1="371.4" y1="5.4" x2="371.4" y2="2.9000000000000004"/><line x1="416.4" y1="5.4" x2="416.4" y2="2.9000000000000004"/><line x1="460.6" y1="5.4" x2="460.6" y2="2.9000000000000004"/><line x1="503.2" y1="5.4" x2="503.2" y2="2.9000000000000004"/><line x1="542.8" y1="5.4" x2="542.8" y2="2.9000000000000004"/><line x1="581.1" y1="5.4" x2="581.1" y2="2.9000000000000004"/><line x1="617.8" y1="5.4" x2="617.8" y2="2.9000000000000004"/><line x1="653.6" y1="5.4" x2="653.6" y2="2.9000000000000004"/><line x1="689.7" y1="5.4" x2="689.7" y2="2.9000000000000004"/><line x1="725.9" y1="5.4" x2="725.9" y2="2.9000000000000004"/><line x1="359.2" y1="5.4" x2="359.2" y2="2.9000000000000004"/><line x1="474.8" y1="5.4" x2="474.8" y2="2.9000000000000004"/><line x1="370.6" y1="249.1" x2="370.6" y2="251.6"/><line x1="440.3" y1="249.1" x2="440.3" y2="251.6"/><line x1="594.6" y1="249.1" x2="594.6" y2="251.6"/><line x1="648.9" y1="249.1" x2="648.9" y2="251.6"/><line x1="711.5" y1="249.1" x2="711.5" y2="251.6"/><line x1="739.6" y1="52.5" x2="742.1" y2="52.5"/><line x1="739.6" y1="122.1" x2="742.1" y2="122.1"/><line x1="739.6" y1="193.3" x2="742.1" y2="193.3"/><line x1="350.3" y1="80.4" x2="347.8" y2="80.4"/></g>
<text x="345.7" y="37.24" font-family="Liberation Sans, sans-serif" font-size="9.52" text-anchor="end" fill="#111" stroke="#111" stroke-width="0.25" textLength="15.77" lengthAdjust="spacingAndGlyphs">10°</text><text x="345.7" y="67.3" font-family="Liberation Sans, sans-serif" font-size="9.52" text-anchor="end" fill="#111" stroke="#111" stroke-width="0.25" textLength="10.11" lengthAdjust="spacingAndGlyphs">0°</text><text x="345.7" y="97.36" font-family="Liberation Sans, sans-serif" font-size="9.52" text-anchor="end" fill="#111" stroke="#111" stroke-width="0.25" textLength="18.99" lengthAdjust="spacingAndGlyphs">-10°</text><text x="345.7" y="127.42" font-family="Liberation Sans, sans-serif" font-size="9.52" text-anchor="end" fill="#111" stroke="#111" stroke-width="0.25" textLength="18.99" lengthAdjust="spacingAndGlyphs">-20°</text><text x="345.7" y="157.48" font-family="Liberation Sans, sans-serif" font-size="9.52" text-anchor="end" fill="#111" stroke="#111" stroke-width="0.25" textLength="18.99" lengthAdjust="spacingAndGlyphs">-30°</text><text x="345.7" y="187.54" font-family="Liberation Sans, sans-serif" font-size="9.52" text-anchor="end" fill="#111" stroke="#111" stroke-width="0.25" textLength="18.99" lengthAdjust="spacingAndGlyphs">-40°</text><text x="345.7" y="217.6" font-family="Liberation Sans, sans-serif" font-size="9.52" text-anchor="end" fill="#111" stroke="#111" stroke-width="0.25" textLength="18.99" lengthAdjust="spacingAndGlyphs">-50°</text><text x="345.7" y="247.66" font-family="Liberation Sans, sans-serif" font-size="9.52" text-anchor="end" fill="#111" stroke="#111" stroke-width="0.25" textLength="18.99" lengthAdjust="spacingAndGlyphs">-60°</text><text x="358.1" y="261" font-family="Liberation Sans, sans-serif" font-size="9.52" text-anchor="middle" fill="#111" stroke="#111" stroke-width="0.25" textLength="21.44" lengthAdjust="spacingAndGlyphs">220°</text><text x="383.2" y="261" font-family="Liberation Sans, sans-serif" font-size="9.52" text-anchor="middle" fill="#111" stroke="#111" stroke-width="0.25" textLength="21.44" lengthAdjust="spacingAndGlyphs">205°</text><text x="412.3" y="261" font-family="Liberation Sans, sans-serif" font-size="9.52" text-anchor="middle" fill="#111" stroke="#111" stroke-width="0.25" textLength="21.44" lengthAdjust="spacingAndGlyphs">190°</text><text x="448" y="261" font-family="Liberation Sans, sans-serif" font-size="9.52" text-anchor="middle" fill="#111" stroke="#111" stroke-width="0.25" textLength="21.44" lengthAdjust="spacingAndGlyphs">175°</text><text x="492.3" y="261" font-family="Liberation Sans, sans-serif" font-size="9.52" text-anchor="middle" fill="#111" stroke="#111" stroke-width="0.25" textLength="21.44" lengthAdjust="spacingAndGlyphs">160°</text><text x="541.9" y="261" font-family="Liberation Sans, sans-serif" font-size="9.52" text-anchor="middle" fill="#111" stroke="#111" stroke-width="0.25" textLength="21.44" lengthAdjust="spacingAndGlyphs">145°</text><text x="595.3" y="261" font-family="Liberation Sans, sans-serif" font-size="9.52" text-anchor="middle" fill="#111" stroke="#111" stroke-width="0.25" textLength="21.44" lengthAdjust="spacingAndGlyphs">130°</text><text x="651.1" y="261" font-family="Liberation Sans, sans-serif" font-size="9.52" text-anchor="middle" fill="#111" stroke="#111" stroke-width="0.25" textLength="21.44" lengthAdjust="spacingAndGlyphs">115°</text><text x="705.8" y="261" font-family="Liberation Sans, sans-serif" font-size="9.52" text-anchor="middle" fill="#111" stroke="#111" stroke-width="0.25" textLength="21.44" lengthAdjust="spacingAndGlyphs">100°</text>
<text x="544.45" y="273.6" font-family="Liberation Sans, sans-serif" font-size="9.52" text-anchor="middle" fill="#111" stroke="#111" stroke-width="0.25" textLength="99.01" lengthAdjust="spacingAndGlyphs">Right Ascension [ARC]</text>
<text transform="translate(321,127.15) rotate(-90)" font-family="Liberation Sans, sans-serif" font-size="9.52" text-anchor="middle" fill="#111" stroke="#111" stroke-width="0.25" textLength="78.13" lengthAdjust="spacingAndGlyphs">Declination [ARC]</text>
</svg></body></html>
